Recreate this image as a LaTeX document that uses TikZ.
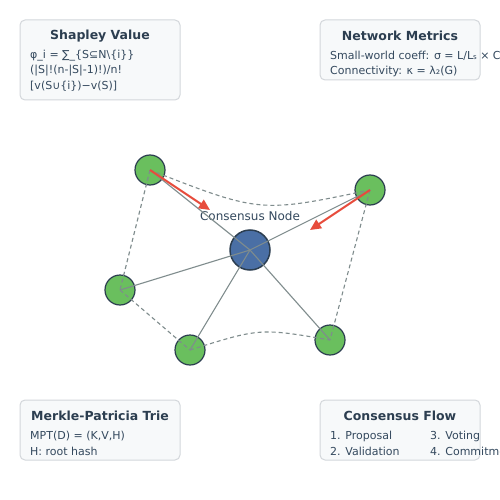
\documentclass[tikz,border=0pt]{standalone}
\usepackage{fontspec}
\setmainfont{DejaVu Sans}
\usetikzlibrary{arrows.meta}
\definecolor{dark}{HTML}{2C3E50}
\definecolor{bodytxt}{HTML}{34495E}
\definecolor{edgegray}{HTML}{7F8C8D}
\definecolor{peer}{HTML}{6ABF5E}
\definecolor{hub}{HTML}{4A6FA5}
\definecolor{redarrow}{HTML}{E74C3C}
\definecolor{boxfill}{HTML}{F7F9FA}
\definecolor{boxline}{HTML}{D3D7DB}
\tikzset{
  peernode/.style={circle, fill=peer, draw=dark, line width=1.2pt, minimum size=30pt, inner sep=0pt},
  hubnode/.style={circle, fill=hub, draw=dark, line width=1.5pt, minimum size=40pt, inner sep=0pt},
  solidedge/.style={draw=edgegray, line width=1.1pt},
  dashedge/.style={draw=edgegray, line width=1.1pt, dash pattern=on 4pt off 3pt},
  flowarrow/.style={draw=redarrow, line width=2pt, -{Triangle[length=11pt,width=10pt]}},
  infobox/.style={draw=boxline, fill=boxfill, line width=1pt, rounded corners=5pt},
  boxtitle/.style={font=\fontsize{12.5}{14}\selectfont\bfseries, text=dark, anchor=center, inner sep=0pt},
  boxtext/.style={font=\fontsize{11}{13}\selectfont, text=bodytxt, anchor=west, inner sep=0pt},
}
\begin{document}
\begin{tikzpicture}[x=1pt,y=-1pt]
\useasboundingbox (0,0) rectangle (500,500);
\clip (0,0) rectangle (500,500);
\fill[white] (0,0) rectangle (500,500);

% boxes
\draw[infobox] (20,20) rectangle (180,100);
\node[boxtitle] (t1) at (100,36) {Shapley Value};
\node[boxtext] (s1) at (30,56) {φ\_i = ∑\_\{S⊆N\textbackslash\{i\}\}};
\node[boxtext] (s2) at (30,71) {(|S|!(n-|S|-1)!)/n!};
\node[boxtext] (s3) at (30,86) {[v(S∪\{i\})−v(S)]};

\draw[infobox] (320,20) rectangle (480,80);
\node[boxtitle] (t2) at (400,36) {Network Metrics};
\node[boxtext] (n1) at (330,56) {Small-world coeff: σ = L/L{\fontsize{7}{8}\selectfont s} × C/C{\fontsize{7}{8}\selectfont s}};
\node[boxtext] (n2) at (330,71) {Connectivity: κ = λ₂(G)};

\draw[infobox] (20,400) rectangle (180,460);
\node[boxtitle] (t3) at (100,416) {Merkle-Patricia Trie};
\node[boxtext] (m1) at (30,436) {MPT(D) = (K,V,H)};
\node[boxtext] (m2) at (30,451) {H: root hash};

\draw[infobox] (320,400) rectangle (480,460);
\node[boxtitle] (t4) at (400,416) {Consensus Flow};
\node[boxtext] (c1) at (330,436) {1. Proposal};
\node[boxtext] (c2) at (330,451) {2. Validation};
\node[boxtext] (c3) at (430,436) {3. Voting};
\node[boxtext] (c4) at (430,451) {4. Commitment};

% nodes
\node[hubnode] (hub) at (250,250) {};
\node[peernode] (p1) at (150,170) {};
\node[peernode] (p2) at (370,190) {};
\node[peernode] (p3) at (120,290) {};
\node[peernode] (p4) at (190,350) {};
\node[peernode] (p5) at (330,340) {};
\node[font=\fontsize{12}{14}\selectfont, text=bodytxt, inner sep=0pt] (lbl) at (250,216) {Consensus Node};

% edges
\foreach \p in {p1,p2,p3,p4,p5} {
  \draw[solidedge] (hub.center) -- (\p.center);
}
\draw[dashedge] (p1.center) -- (p3.center);
\draw[dashedge] (p3.center) -- (p4.center);
\draw[dashedge] (p2.center) -- (p5.center);
\draw[dashedge] (p1.center) .. controls (260,213) .. (p2.center);
\draw[dashedge] (p4.center) .. controls (260,328) .. (p5.center);

% arrows
\coordinate (a1) at (210,210);
\coordinate (a2) at (310,230);
\draw[flowarrow] (p1.center) -- (a1);
\draw[flowarrow] (p2.center) -- (a2);
\end{tikzpicture}
\end{document}
